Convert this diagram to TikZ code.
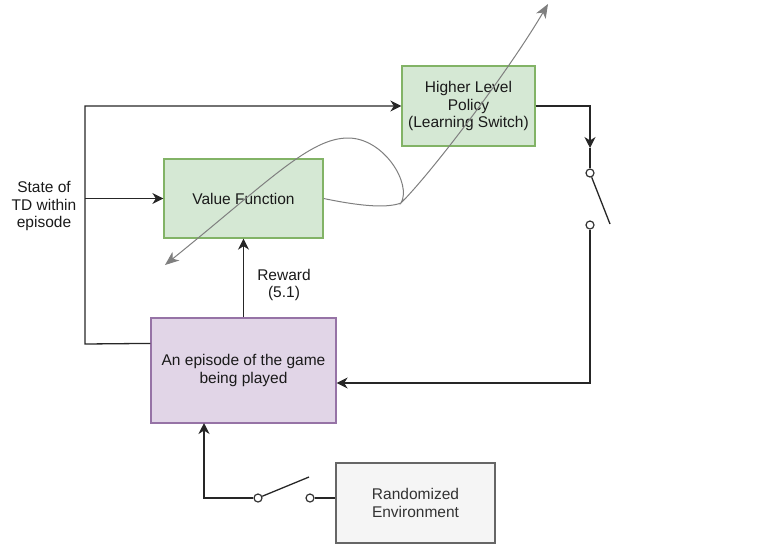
\documentclass[tikz,border=0pt]{standalone}
\usepackage{fontspec}
\setmainfont{Liberation Sans}
\usetikzlibrary{arrows.meta,calc}
\definecolor{gfill}{HTML}{D5E8D4}
\definecolor{gline}{HTML}{82B366}
\definecolor{pfill}{HTML}{E1D5E7}
\definecolor{pline}{HTML}{9673A6}
\definecolor{rfill}{HTML}{F5F5F5}
\definecolor{rline}{HTML}{666666}
\definecolor{curvec}{HTML}{7F7F7F}
\definecolor{txt}{HTML}{1A1A1A}
\begin{document}
\begin{tikzpicture}[x=1pt,y=-1pt,
  font=\fontsize{15.5}{17.8}\selectfont,
  box/.style={draw, line width=1.3pt, align=center, inner sep=0pt, text=txt},
  gbox/.style={box, draw=gline, fill=gfill},
  pbox/.style={box, draw=pline, fill=pfill},
  rbox/.style={box, draw=rline, fill=rfill, text=black!80},
  lbl/.style={align=center, inner sep=0pt, text=txt},
  conn/.style={line width=1.3pt, draw=black!85},
  arr/.style={conn, -{Stealth[length=11pt,width=11pt,inset=3.5pt]}},
  swc/.style={circle, draw=black!80, fill=white, line width=1.2pt, minimum size=8pt, inner sep=0pt},
  loopc/.style={draw=curvec, line width=1pt,
    {Stealth[length=14pt,width=11pt,inset=4pt]}-{Stealth[length=14pt,width=11pt,inset=4pt]}}
]
\useasboundingbox (0,0) rectangle (767,547);

% boxes
\node[gbox, minimum width=133pt, minimum height=80pt] (hlp) at (468.5,106) {Higher Level\\Policy\\(Learning Switch)};
\node[gbox, minimum width=159pt, minimum height=79pt] (vf) at (243.5,198.5) {Value Function};
\node[pbox, minimum width=185pt, minimum height=105pt] (ep) at (243.5,370.5) {An episode of the game\\being played};
\node[rbox, minimum width=159pt, minimum height=80pt] (rnd) at (415.5,503) {Randomized\\Environment};

% labels
\node[lbl] (state) at (44,206) {State of\\TD within\\episode};
\node[lbl] (rew) at (284,285) {Reward\\(5.1)};

% left feedback lines
\coordinate (epw) at ($(ep.north west)!0.245!(ep.south west)$);
\coordinate (lb) at (85,344);
\coordinate (lm) at (85,198.5);
\coordinate (lt) at (85,106);
\draw[arr] (epw) -- (lb) -- (lt) -- (hlp.west);
\draw[arr] (lm) -- (vf.west);

% reward
\draw[arr] (ep.north) -- (vf.south);

% right switch
\node[swc] (s1) at (590,173) {};
\node[swc] (s2) at (590,225) {};
\coordinate (swtop) at (590,148);
\coordinate (lev1) at (610,224);
\coordinate (sbot) at (590,383);
\coordinate (epe) at (ep.east |- sbot);
\draw[arr] (hlp.east) -| (swtop);
\draw[conn] (swtop) -- (s1);
\draw[conn] (s1) -- (lev1);
\draw[arr] (s2) -- (sbot) -- (epe);

% bottom switch
\node[swc] (s3) at (258,498) {};
\node[swc] (s4) at (310,498) {};
\coordinate (lev2) at (309,477);
\coordinate (bl) at (204,498);
\coordinate (epb) at (204,423);
\coordinate (rw) at (rnd.west |- s4);
\draw[arr] (s3) -- (bl) -- (epb);
\draw[conn] (s3) -- (lev2);
\draw[conn] (s4) -- (rw);

% gray curve
\coordinate (c0) at (165,265);
\coordinate (cpk) at (348,138);
\coordinate (cx) at (401,203);
\coordinate (c1) at (548,4);
\draw[loopc] (c0) .. controls (270,180) and (310,138) .. (cpk)
  .. controls (384,138) and (412,184) .. (cx)
  .. controls (432,172) and (508,72) .. (c1);
\draw[draw=curvec, line width=1pt] (vf.east) .. controls (355,205) and (385,209) .. (cx);
\end{tikzpicture}
\end{document}
